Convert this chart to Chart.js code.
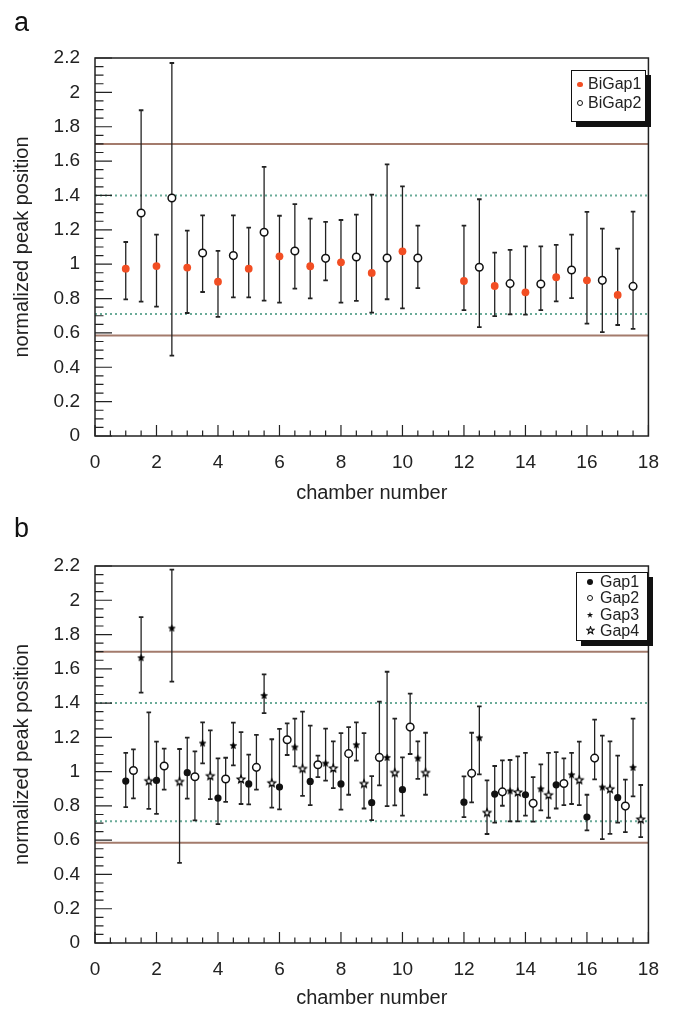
<!DOCTYPE html>
<html>
<head>
<meta charset="utf-8">
<script src="https://cdn.jsdelivr.net/npm/chart.js@4.4.1/dist/chart.umd.min.js"></script>
<style>
html,body{margin:0;padding:0;background:#fff;}
body{width:674px;height:1010px;position:relative;overflow:hidden;font-family:"Liberation Sans",Arial,Helvetica,sans-serif;color:#222;}
canvas{position:absolute;left:0;}
#cA{top:0;}
#cB{top:505px;}
.panel{position:absolute;font-size:27px;line-height:27px;color:#111;}
.legend{position:absolute;border:1px solid #111;background:#fff;box-shadow:5px 5px 0 #111;}
.lt{position:absolute;font-size:16px;line-height:16px;white-space:nowrap;color:#222;}
.mk{position:absolute;border-radius:50%;box-sizing:border-box;}
.st{position:absolute;}
</style>
</head>
<body>
<canvas id="cA" width="674" height="505" style="width:674px;height:505px"></canvas>
<canvas id="cB" width="674" height="505" style="width:674px;height:505px"></canvas>

<div class="panel" style="left:14px;top:9px;">a</div>
<div class="panel" style="left:14px;top:515px;">b</div>

<div class="legend" style="left:571px;top:70px;width:73px;height:50px;">
  <span class="mk" style="left:5.2px;top:10.5px;width:5.6px;height:5.6px;background:#f24e23;"></span>
  <span class="lt" style="left:16px;top:5.3px;">BiGap1</span>
  <span class="mk" style="left:5px;top:29.3px;width:6px;height:6px;border:1px solid #111;background:#fff;"></span>
  <span class="lt" style="left:16px;top:24.3px;">BiGap2</span>
</div>

<div class="legend" style="left:576px;top:572px;width:70px;height:67px;">
  <span class="mk" style="left:9.8px;top:5.5px;width:6.4px;height:6.4px;background:#111;"></span>
  <span class="lt" style="left:23px;top:0.7px;">Gap1</span>
  <span class="mk" style="left:9.8px;top:22.1px;width:6.4px;height:6.4px;border:1px solid #111;background:#fff;"></span>
  <span class="lt" style="left:23px;top:17.3px;">Gap2</span>
  <svg class="st" style="left:9px;top:38px;" width="8" height="8" viewBox="-4 -4 8 8"><polygon points="0,-3.3 0.78,-1.07 3.14,-1.02 1.26,0.41 1.94,2.67 0,1.32 -1.94,2.67 -1.26,0.41 -3.14,-1.02 -0.78,-1.07" fill="#111"/></svg>
  <span class="lt" style="left:23px;top:34px;">Gap3</span>
  <svg class="st" style="left:8.5px;top:53.2px;" width="9" height="9" viewBox="-4.5 -4.5 9 9"><polygon points="0,-3.8 0.9,-1.24 3.61,-1.17 1.45,0.47 2.23,3.07 0,1.52 -2.23,3.07 -1.45,0.47 -3.61,-1.17 -0.9,-1.24" fill="#fff" stroke="#111" stroke-width="1.1"/></svg>
  <span class="lt" style="left:23px;top:49.7px;">Gap4</span>
</div>

<script>
// ---------------- data ----------------
const chambers = [1, 2, 3, 4, 5, 6, 7, 8, 9, 10, 12, 13, 14, 15, 16, 17];

// panel a
const biGap1Val  = [0.974, 0.989, 0.980, 0.898, 0.974, 1.046, 0.988, 1.011, 0.949, 1.075, 0.902, 0.873, 0.836, 0.924, 0.906, 0.821];
const biGap1Low  = [0.795, 0.753, 0.716, 0.693, 0.807, 0.776, 0.801, 0.776, 0.718, 0.743, 0.733, 0.698, 0.706, 0.784, 0.654, 0.646];
const biGap1High = [1.129, 1.172, 1.195, 1.077, 1.213, 1.282, 1.265, 1.257, 1.405, 1.453, 1.224, 1.067, 1.104, 1.112, 1.304, 1.090];

const biGap2Val  = [1.298, 1.385, 1.065, 1.050, 1.186, 1.077, 1.034, 1.042, 1.036, 1.036, 0.982, 0.887, 0.885, 0.966, 0.906, 0.871];
const biGap2Low  = [0.782, 0.468, 0.838, 0.807, 0.788, 0.858, 0.906, 0.786, 0.796, 0.861, 0.634, 0.708, 0.733, 0.803, 0.604, 0.623];
const biGap2High = [1.896, 2.171, 1.284, 1.284, 1.566, 1.349, 1.246, 1.288, 1.581, 1.224, 1.378, 1.083, 1.104, 1.172, 1.207, 1.306];

// panel b
const gap1Val  = [0.945, 0.949, 0.994, 0.846, 0.928, 0.910, 0.943, 0.928, 0.819, 0.895, 0.822, 0.869, 0.865, 0.923, 0.735, 0.848];
const gap1Low  = [0.793, 0.754, 0.842, 0.694, 0.809, 0.780, 0.805, 0.778, 0.717, 0.743, 0.735, 0.702, 0.743, 0.785, 0.657, 0.702];
const gap1High = [1.110, 1.175, 1.198, 1.077, 1.099, 1.249, 1.268, 1.225, 0.974, 1.083, 0.972, 1.033, 1.109, 1.114, 0.865, 1.093];

const gap2Val  = [1.007, 1.033, 0.970, 0.957, 1.025, 1.186, 1.040, 1.105, 1.083, 1.260, 0.990, 0.882, 0.815, 0.931, 1.079, 0.799];
const gap2Low  = [0.844, 0.895, 0.716, 0.823, 0.895, 1.097, 0.968, 0.865, 0.920, 1.103, 0.821, 0.801, 0.708, 0.805, 0.955, 0.647];
const gap2High = [1.130, 1.134, 1.118, 1.081, 1.215, 1.282, 1.093, 1.260, 1.408, 1.455, 1.227, 1.066, 0.968, 1.077, 1.304, 0.953];

const gap3Val  = [1.665, 1.838, 1.167, 1.153, 1.445, 1.144, 1.050, 1.157, 1.083, 1.079, 1.198, 0.888, 0.900, 0.982, 0.910, 1.025];
const gap3Low  = [1.461, 1.525, 1.048, 1.037, 1.342, 1.031, 0.947, 1.064, 0.799, 0.958, 0.984, 0.710, 0.774, 0.811, 0.606, 0.856];
const gap3High = [1.902, 2.179, 1.288, 1.286, 1.568, 1.309, 1.251, 1.288, 1.583, 1.177, 1.381, 1.068, 1.042, 1.110, 1.210, 1.309];

const gap4Val  = [0.947, 0.943, 0.976, 0.957, 0.935, 1.019, 1.021, 0.931, 0.995, 0.995, 0.762, 0.881, 0.865, 0.953, 0.900, 0.723];
const gap4Low  = [0.783, 0.468, 0.840, 0.811, 0.790, 0.859, 0.904, 0.785, 0.803, 0.865, 0.636, 0.710, 0.731, 0.805, 0.637, 0.618];
const gap4High = [1.346, 1.132, 1.241, 1.231, 1.189, 1.350, 1.177, 1.225, 1.309, 1.227, 0.949, 1.089, 1.109, 1.175, 1.177, 0.922];

// reference levels
const limitLevels = [1.7, 0.585];
const warnLevels  = [1.4, 0.71];

// axes
const xRange = [0, 18];
const yRange = [0, 2.2];
const xTicks = [0, 2, 4, 6, 8, 10, 12, 14, 16, 18];
const xTickLabels = ['0', '2', '4', '6', '8', '10', '12', '14', '16', '18'];
const yTicks = [0, 0.2, 0.4, 0.6, 0.8, 1, 1.2, 1.4, 1.6, 1.8, 2, 2.2];
const yTickLabels = ['0', '0.2', '0.4', '0.6', '0.8', '1', '1.2', '1.4', '1.6', '1.8', '2', '2.2'];
const xTitle = 'chamber number';
const yTitle = 'normalized peak position';

// ---------------- styling / helpers ----------------
const FONT = '"Liberation Sans", Arial, Helvetica, sans-serif';
const INK = '#222';
const BROWN = '#a37b6c';
const GREEN = '#6aab98';
const ORANGE = '#f24e23';

function makeStar(R, filled) {
  const s = Math.ceil(R * 2 + 4);
  const c = document.createElement('canvas');
  c.width = s; c.height = s;
  const g = c.getContext('2d');
  g.translate(s / 2, s / 2 + R * 0.1);
  g.beginPath();
  for (let k = 0; k < 10; k++) {
    const r = (k % 2) ? R * 0.45 : R;
    const ang = -Math.PI / 2 + k * Math.PI / 5;
    g.lineTo(r * Math.cos(ang), r * Math.sin(ang));
  }
  g.closePath();
  if (filled) { g.fillStyle = '#000'; g.fill(); g.lineWidth = 0.6; g.strokeStyle = '#000'; g.stroke(); }
  else { g.fillStyle = '#fff'; g.fill(); g.lineWidth = 1.2; g.strokeStyle = '#000'; g.stroke(); }
  return c;
}
const starFilled = makeStar(3.5, true);
const starOpen = makeStar(4.0, false);

function points(offset, vals) {
  return chambers.map((c, i) => ({ x: c + offset, y: vals[i] }));
}
function errorSegments(offset, lo, hi) {
  const out = [];
  chambers.forEach((c, i) => {
    out.push({ x: c + offset, y: lo[i] });
    out.push({ x: c + offset, y: hi[i] });
    out.push({ x: c + offset, y: null });
  });
  return out;
}
function errorDataset(offset, lo, hi) {
  return {
    data: errorSegments(offset, lo, hi),
    showLine: true, spanGaps: false,
    borderColor: INK, borderWidth: 1.3,
    pointStyle: 'line', pointRadius: 2.3, pointBorderWidth: 1.8,
    pointBorderColor: INK, pointBackgroundColor: INK,
    order: 2
  };
}
function levelDataset(v, color, dash) {
  return {
    data: [{ x: xRange[0], y: v }, { x: xRange[1], y: v }],
    showLine: true, pointRadius: 0, borderColor: color, borderWidth: 2,
    borderDash: dash || [], order: 3
  };
}
function markerDataset(offset, vals, style) {
  return Object.assign({ data: points(offset, vals), showLine: false, order: 1 }, style);
}

const frameTicks = {
  id: 'frameTicks',
  afterDraw(chart) {
    const { ctx, chartArea: a, scales: { x, y } } = chart;
    ctx.save();
    ctx.strokeStyle = INK;
    ctx.lineWidth = 1.2;
    ctx.beginPath();
    for (let i = 0; i <= 36; i++) {
      const px = x.getPixelForValue(i * 0.5);
      const len = (i % 4 === 0) ? 11 : 5.5;
      ctx.moveTo(px, a.bottom);
      ctx.lineTo(px, a.bottom - len);
    }
    for (let i = 0; i <= 44; i++) {
      const py = y.getPixelForValue(i * 0.05);
      const len = (i % 4 === 0) ? 17 : 8.5;
      ctx.moveTo(a.left, py);
      ctx.lineTo(a.left + len, py);
    }
    ctx.stroke();
    ctx.lineWidth = 1.5;
    ctx.strokeRect(a.left, a.top, a.right - a.left, a.bottom - a.top);
    ctx.restore();
  }
};

function makeChart(id, datasets, padTop, plotBottom) {
  const H = 505;
  return new Chart(document.getElementById(id), {
    type: 'scatter',
    data: { datasets },
    plugins: [frameTicks],
    options: {
      responsive: false, animation: false, events: [],
      devicePixelRatio: 1,
      layout: { padding: { top: padTop, right: 15, bottom: 0, left: 0 } },
      plugins: { legend: { display: false }, tooltip: { enabled: false } },
      scales: {
        x: {
          type: 'linear', min: xRange[0], max: xRange[1],
          afterBuildTicks: s => { s.ticks = xTicks.map(v => ({ value: v })); },
          afterFit: s => { s.height = H - plotBottom; },
          ticks: {
            callback: (v, i) => xTickLabels[i],
            font: { family: FONT, size: 19 }, color: INK, padding: 15,
            maxRotation: 0, autoSkip: false
          },
          grid: { display: false, drawTicks: false },
          border: { display: false },
          title: { display: true, text: xTitle, color: INK,
                   font: { family: FONT, size: 20 }, padding: { top: 0, bottom: 0 } }
        },
        y: {
          type: 'linear', min: yRange[0], max: yRange[1],
          afterBuildTicks: s => { s.ticks = yTicks.map(v => ({ value: v })); },
          afterFit: s => { s.width = 95; },
          ticks: {
            callback: (v, i) => yTickLabels[i],
            font: { family: FONT, size: 19 }, color: INK, padding: 15,
            autoSkip: false
          },
          grid: { display: false, drawTicks: false },
          border: { display: false },
          title: { display: true, text: yTitle, color: INK,
                   font: { family: FONT, size: 20 }, padding: { top: 10, bottom: 0 } }
        }
      }
    }
  });
}

const levelSets = () => [
  levelDataset(limitLevels[0], BROWN), levelDataset(limitLevels[1], BROWN),
  levelDataset(warnLevels[0], GREEN, [2, 3]), levelDataset(warnLevels[1], GREEN, [2, 3])
];

// panel a
makeChart('cA', [
  ...levelSets(),
  errorDataset(0, biGap1Low, biGap1High),
  errorDataset(0.5, biGap2Low, biGap2High),
  markerDataset(0, biGap1Val, { pointStyle: 'circle', pointRadius: 3.9, backgroundColor: ORANGE, borderColor: ORANGE, borderWidth: 0 }),
  markerDataset(0.5, biGap2Val, { pointStyle: 'circle', pointRadius: 3.8, backgroundColor: '#fff', borderColor: '#111', borderWidth: 1.5 })
], 58, 436);

// panel b
makeChart('cB', [
  ...levelSets(),
  errorDataset(0, gap1Low, gap1High),
  errorDataset(0.25, gap2Low, gap2High),
  errorDataset(0.5, gap3Low, gap3High),
  errorDataset(0.75, gap4Low, gap4High),
  markerDataset(0, gap1Val, { pointStyle: 'circle', pointRadius: 3.6, backgroundColor: '#111', borderColor: '#111', borderWidth: 0 }),
  markerDataset(0.25, gap2Val, { pointStyle: 'circle', pointRadius: 3.8, backgroundColor: '#fff', borderColor: '#111', borderWidth: 1.5 }),
  markerDataset(0.5, gap3Val, { pointStyle: starFilled }),
  markerDataset(0.75, gap4Val, { pointStyle: starOpen })
], 61, 438);
</script>
</body>
</html>
